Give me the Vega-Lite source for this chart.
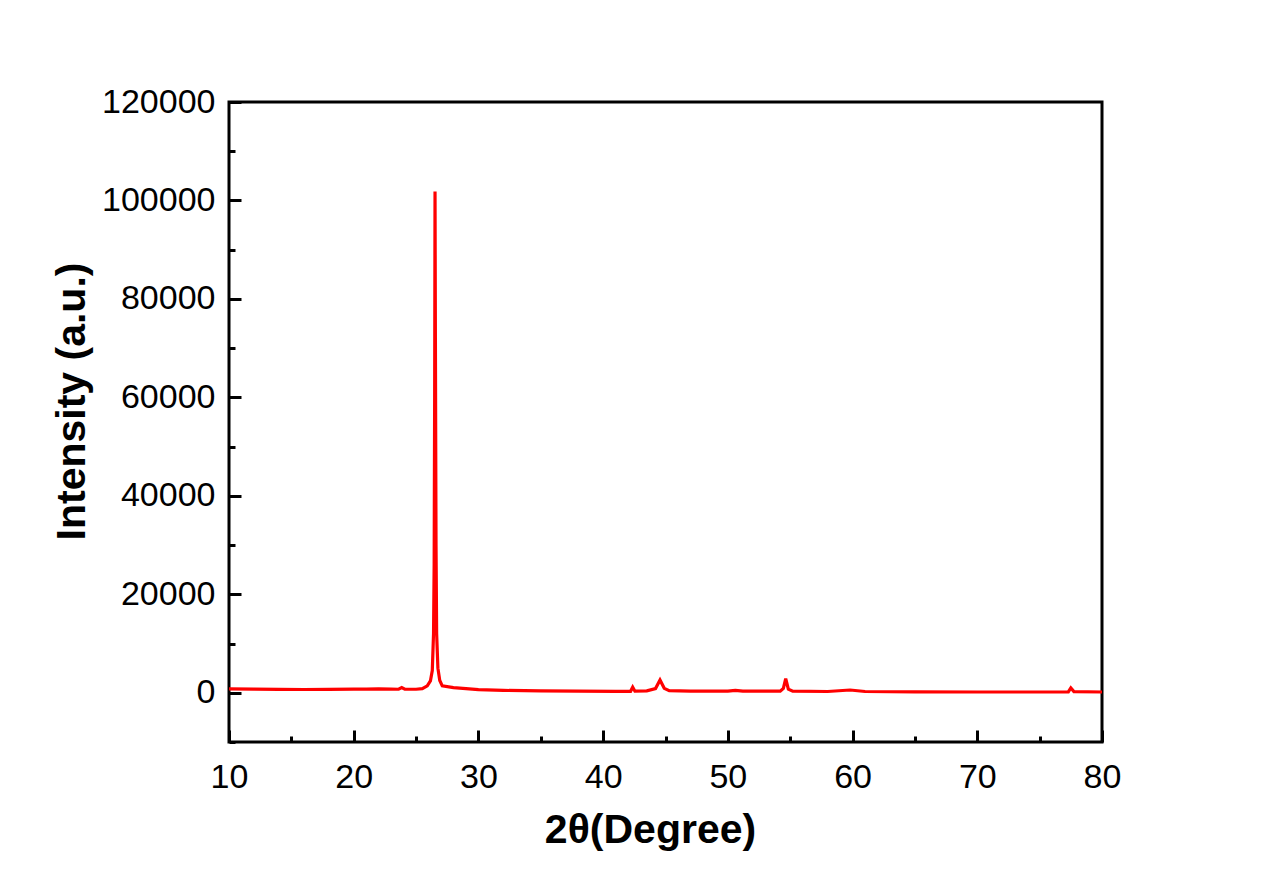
{
  "$schema": "https://vega.github.io/schema/vega-lite/v6.json",
  "width": 873,
  "height": 640,
  "autosize": {"type": "none"},
  "padding": {"left": 229, "top": 102, "right": 178, "bottom": 149},
  "background": "white",
  "config": {
    "view": {"stroke": "black", "strokeWidth": 3},
    "axis": {
      "domain": false,
      "grid": false,
      "labelFont": "Liberation Sans",
      "labelFontSize": 34,
      "labelColor": "black",
      "titleFont": "Liberation Sans",
      "titleFontWeight": "bold",
      "titleFontSize": 41,
      "titleColor": "black",
      "tickColor": "black",
      "tickWidth": 3
    }
  },
  "data": {
    "values": [
      {"x": 10, "y": 780}, {"x": 12, "y": 740}, {"x": 14, "y": 690}, {"x": 16, "y": 660},
      {"x": 18, "y": 690}, {"x": 20, "y": 730}, {"x": 21, "y": 760}, {"x": 22, "y": 800},
      {"x": 23, "y": 740}, {"x": 23.6, "y": 720}, {"x": 23.85, "y": 1050}, {"x": 24.1, "y": 720},
      {"x": 25, "y": 720}, {"x": 25.5, "y": 850}, {"x": 25.9, "y": 1400}, {"x": 26.15, "y": 2400},
      {"x": 26.3, "y": 4500}, {"x": 26.4, "y": 12000}, {"x": 26.45, "y": 26000}, {"x": 26.49, "y": 60000},
      {"x": 26.52, "y": 101800}, {"x": 26.55, "y": 72000}, {"x": 26.6, "y": 30000}, {"x": 26.65, "y": 12000},
      {"x": 26.75, "y": 5000}, {"x": 26.9, "y": 2500}, {"x": 27.1, "y": 1400}, {"x": 28, "y": 1050},
      {"x": 29, "y": 850}, {"x": 30, "y": 650}, {"x": 32, "y": 480}, {"x": 35, "y": 380},
      {"x": 38, "y": 320}, {"x": 41, "y": 300}, {"x": 42.2, "y": 300}, {"x": 42.37, "y": 1150},
      {"x": 42.55, "y": 320}, {"x": 43.5, "y": 380}, {"x": 44.2, "y": 850}, {"x": 44.56, "y": 2600},
      {"x": 44.9, "y": 900}, {"x": 45.3, "y": 420}, {"x": 47, "y": 320}, {"x": 50, "y": 320},
      {"x": 50.6, "y": 480}, {"x": 51.2, "y": 320}, {"x": 54.2, "y": 320}, {"x": 54.45, "y": 900},
      {"x": 54.64, "y": 2850}, {"x": 54.85, "y": 750}, {"x": 55.2, "y": 320}, {"x": 58, "y": 260},
      {"x": 59.8, "y": 560}, {"x": 61, "y": 260}, {"x": 65, "y": 190}, {"x": 70, "y": 160},
      {"x": 75, "y": 160}, {"x": 77.3, "y": 200}, {"x": 77.5, "y": 1000}, {"x": 77.75, "y": 250},
      {"x": 80, "y": 160}
    ]
  },
  "mark": {"type": "line", "color": "#ff0000", "strokeWidth": 3.2, "clip": true},
  "encoding": {
    "x": {
      "field": "x",
      "type": "quantitative",
      "scale": {"domain": [10, 80], "nice": false, "zero": false},
      "axis": {
        "title": "2θ(Degree)",
        "titleX": 421,
        "values": [10, 15, 20, 25, 30, 35, 40, 45, 50, 55, 60, 65, 70, 75, 80],
        "labelExpr": "datum.value % 10 === 0 ? datum.label : ''",
        "tickSize": {"condition": {"test": "datum.value % 10 === 0", "value": -12}, "value": -6},
        "labelPadding": 30,
        "labelFlush": false,
        "labelOverlap": false,
        "titlePadding": 10
      }
    },
    "y": {
      "field": "y",
      "type": "quantitative",
      "scale": {"domain": [-10000, 120000], "nice": false, "zero": false},
      "axis": {
        "title": "Intensity (a.u.)",
        "titleY": 299,
        "values": [-10000, 0, 10000, 20000, 30000, 40000, 50000, 60000, 70000, 80000, 90000, 100000, 110000, 120000],
        "labelExpr": "datum.value % 20000 === 0 ? replace(datum.label, /,/g, '') : ''",
        "tickSize": {"condition": {"test": "datum.value % 20000 === 0", "value": -12}, "value": -6},
        "labelPadding": 26,
        "labelFlush": false,
        "labelOverlap": false,
        "titlePadding": 8
      }
    }
  }
}
